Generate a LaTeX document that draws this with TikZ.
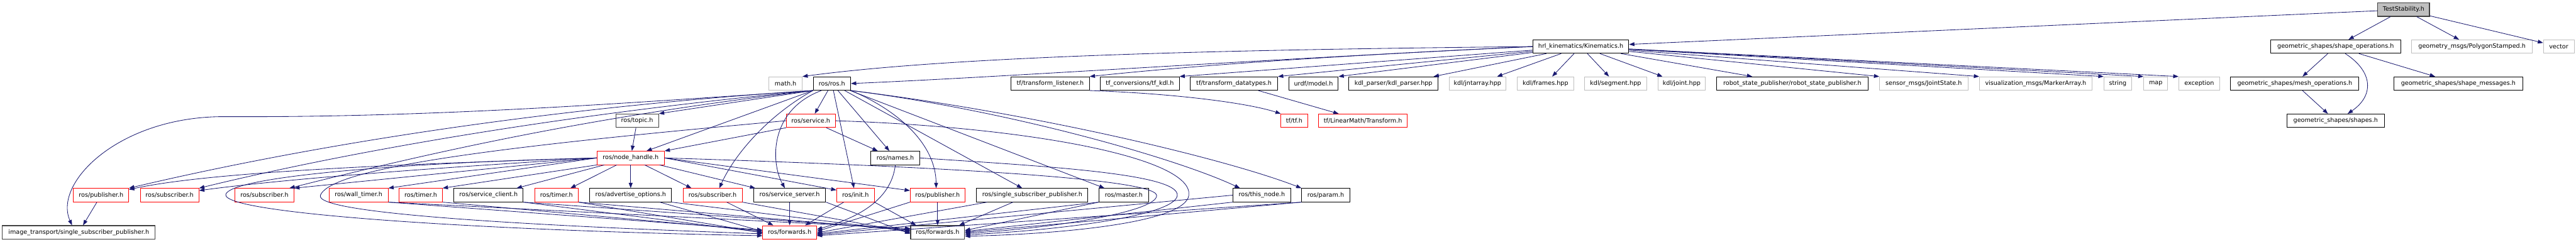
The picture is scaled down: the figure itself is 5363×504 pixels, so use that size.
\documentclass[tikz,border=0pt]{standalone}
\usepackage{fontspec}
\setmainfont{DejaVu Sans}
\usepackage{xcolor}
\usetikzlibrary{arrows.meta}
\definecolor{edgeblue}{HTML}{191970}
\definecolor{sysgray}{HTML}{BFBFBF}

\begin{document}
\begin{tikzpicture}[x=1pt, y=1pt,
  hdr/.style={draw=black, line width=1.2pt, fill=white, minimum height=28pt, inner sep=0pt, font=\fontsize{12.6}{15}\selectfont},
  heavy/.style={hdr, draw=black!75, line width=1.6pt},
  trunc/.style={hdr, draw=red},
  sys/.style={hdr, draw=sysgray},
  root/.style={heavy, fill=sysgray},
  arrow/.style={-{Triangle[length=11pt,width=8pt]}, draw=edgeblue, line width=1.1pt}
]
\useasboundingbox (0,0) rectangle (5363,-504);
\node[root, minimum width=108pt] (test) at (5004,-20) {TestStability.h};
\node[hdr, minimum width=200pt] (kin) at (3291,-97) {hrl\_kinematics/Kinematics.h};
\node[hdr, minimum width=271pt] (shapeop) at (4862.5,-97) {geometric\_shapes/shape\_operations.h};
\node[sys, minimum width=251pt] (polygon) at (5146.5,-97) {geometry\_msgs/PolygonStamped.h};
\node[sys, minimum width=64pt] (vector) at (5327,-97) {vector};
\node[sys, minimum width=69pt] (mathh) at (1635.5,-174) {math.h};
\node[hdr, minimum width=78pt] (rosros) at (1732,-174) {ros/ros.h};
\node[hdr, minimum width=163pt] (tflisten) at (2186.5,-174) {tf/transform\_listener.h};
\node[hdr, minimum width=164pt] (tfkdl) at (2373,-174) {tf\_conversions/tf\_kdl.h};
\node[hdr, minimum width=182pt] (tfdata) at (2569,-174) {tf/transform\_datatypes.h};
\node[hdr, minimum width=103pt] (urdf) at (2734.5,-174) {urdf/model.h};
\node[hdr, minimum width=186pt] (kdlparser) at (2901,-174) {kdl\_parser/kdl\_parser.hpp};
\node[sys, minimum width=118pt] (jntarray) at (3076,-174) {kdl/jntarray.hpp};
\node[sys, minimum width=117pt] (frames) at (3217.5,-174) {kdl/frames.hpp};
\node[sys, minimum width=129pt] (segment) at (3363.5,-174) {kdl/segment.hpp};
\node[sys, minimum width=98pt] (joint) at (3501,-174) {kdl/joint.hpp};
\node[hdr, minimum width=315pt] (rsp) at (3731.5,-174) {robot\_state\_publisher/robot\_state\_publisher.h};
\node[sys, minimum width=184pt] (jointstate) at (4005,-174) {sensor\_msgs/JointState.h};
\node[sys, minimum width=234pt] (marker) at (4238,-174) {visualization\_msgs/MarkerArray.h};
\node[sys, minimum width=58pt] (string) at (4409,-174) {string};
\node[sys, minimum width=50pt] (map) at (4488,-174) {map};
\node[sys, minimum width=85pt] (exception) at (4578.5,-174) {exception};
\node[hdr, minimum width=267pt] (meshop) at (4777.5,-174) {geometric\_shapes/mesh\_operations.h};
\node[hdr, minimum width=268pt] (shapemsg) at (5118,-174) {geometric\_shapes/shape\_messages.h};
\node[heavy, minimum width=89pt] (topic) at (1326.5,-251.5) {ros/topic.h};
\node[trunc, minimum width=102pt] (service) at (1688,-251.5) {ros/service.h};
\node[trunc, minimum width=55pt] (tftf) at (2694.5,-251.5) {tf/tf.h};
\node[trunc, minimum width=185pt] (linmath) at (2837.5,-251.5) {tf/LinearMath/Transform.h};
\node[hdr, minimum width=203pt] (shapes) at (4862.5,-251.5) {geometric\_shapes/shapes.h};
\node[trunc, minimum width=140pt] (nodehandle) at (1313,-329) {ros/node\_handle.h};
\node[hdr, minimum width=102pt] (names) at (1864,-329) {ros/names.h};
\node[trunc, minimum width=115pt] (pubA) at (210.5,-406.5) {ros/publisher.h};
\node[trunc, minimum width=122pt] (subA) at (353,-406.5) {ros/subscriber.h};
\node[trunc, minimum width=123pt] (subB) at (550.5,-406.5) {ros/subscriber.h};
\node[trunc, minimum width=123pt] (walltimer) at (746.5,-406.5) {ros/wall\_timer.h};
\node[trunc, minimum width=90pt] (timerA) at (876,-406.5) {ros/timer.h};
\node[hdr, minimum width=144pt] (srvclient) at (1017,-406.5) {ros/service\_client.h};
\node[trunc, minimum width=91pt] (timerB) at (1158.5,-406.5) {ros/timer.h};
\node[hdr, minimum width=170pt] (advopts) at (1313,-406.5) {ros/advertise\_options.h};
\node[trunc, minimum width=123pt] (subC) at (1483.5,-406.5) {ros/subscriber.h};
\node[hdr, minimum width=150pt] (srvserver) at (1644,-406.5) {ros/service\_server.h};
\node[trunc, minimum width=78pt] (init) at (1781,-406.5) {ros/init.h};
\node[trunc, minimum width=114pt] (pubB) at (1952,-406.5) {ros/publisher.h};
\node[hdr, minimum width=232pt] (ssp) at (2149,-406.5) {ros/single\_subscriber\_publisher.h};
\node[hdr, minimum width=103pt] (master) at (2339.5,-406.5) {ros/master.h};
\node[hdr, minimum width=120pt] (thisnode) at (2627,-406.5) {ros/this\_node.h};
\node[hdr, minimum width=100pt] (param) at (2760,-406.5) {ros/param.h};
\node[heavy, minimum width=318pt] (imgssp) at (164,-484) {image\_transport/single\_subscriber\_publisher.h};
\node[trunc, minimum width=112pt] (fwdA) at (1644,-484) {ros/forwards.h};
\node[heavy, minimum width=112pt] (fwdB) at (1952,-484) {ros/forwards.h};
\draw[arrow] (test) -- (kin);
\draw[arrow] (test) -- (shapeop);
\draw[arrow] (test) -- (polygon);
\draw[arrow] (test) -- (vector);
\draw[arrow] (shapeop) -- (meshop);
\draw[arrow] ([xshift=20pt]shapeop.south) .. controls (4942,-150) and (4942,-200) .. ([xshift=25pt]shapes.north);
\draw[arrow] (shapeop) -- (shapemsg);
\draw[arrow] (meshop) -- (shapes);
\draw[arrow] (kin.west) .. controls (2600,-103) and (2000,-115) .. (mathh.north east);
\draw[arrow] (kin.west) .. controls (2600,-125) and (2100,-160) .. (rosros.east);
\draw[arrow] (kin.west) .. controls (2800,-115) and (2500,-135) .. (tflisten.north east);
\draw[arrow] (kin) -- (tfkdl.north east);
\draw[arrow] (kin) -- (tfdata.north east);
\draw[arrow] (kin) -- (urdf.north east);
\draw[arrow] (kin) -- ([xshift=-10pt]kdlparser.north east);
\draw[arrow] (kin) -- (jntarray);
\draw[arrow] (kin) -- (frames);
\draw[arrow] (kin) -- (segment);
\draw[arrow] (kin) -- (joint);
\draw[arrow] (kin) -- (rsp);
\draw[arrow] (kin) -- (jointstate.north west);
\draw[arrow] (kin) -- (marker.north west);
\draw[arrow] (kin) -- (string.north west);
\draw[arrow] (kin) -- (map.north west);
\draw[arrow] (kin) -- (exception.north west);
\draw[arrow] (tflisten.south east) .. controls (2450,-195) and (2600,-215) .. (tftf.north west);
\draw[arrow] (tfdata) -- (linmath);
\draw[arrow] (rosros.south west) -- (topic.north east);
\draw[arrow] (rosros.south west) -- ([xshift=33pt]nodehandle.north);
\draw[arrow] (rosros) -- (service);
\draw[arrow] (rosros.south west) .. controls (1600,-240) and (1530,-320) .. ([xshift=14pt]subC.north);
\draw[arrow] ([xshift=-22pt]rosros.south) .. controls (1600,-230) and (1605,-340) .. ([xshift=-10pt]srvserver.north);
\draw[arrow] (rosros) -- (init);
\draw[arrow] (rosros) -- (names);
\draw[arrow] (rosros.south east) .. controls (1870,-230) and (1948,-300) .. ([xshift=-3pt]pubB.north);
\draw[arrow] (rosros) -- ([xshift=-21pt]ssp.north);
\draw[arrow] (rosros) -- ([xshift=12pt]master.north west);
\draw[arrow] (rosros.south east) .. controls (2100,-230) and (2450,-330) .. ([xshift=15pt]thisnode.north west);
\draw[arrow] (rosros.south east) .. controls (2150,-235) and (2550,-330) .. (param.north west);
\draw[arrow] (rosros.south west) .. controls (1300,-215) and (900,-245) .. (470,-243) .. controls (250,-241) and (110,-380) .. ([xshift=-14pt]imgssp.north);
\draw[arrow] (rosros.south west) .. controls (1200,-220) and (700,-290) .. (pubA.north east);
\draw[arrow] (rosros.south west) .. controls (1200,-235) and (750,-310) .. (subA.north east);
\draw[arrow] (rosros.south west) .. controls (1200,-245) and (850,-330) .. ([xshift=-10pt]subB.north east);
\draw[arrow] (pubA) -- (imgssp);
\draw[arrow] (topic) -- (nodehandle);
\draw[arrow] (service.south west) -- (nodehandle.north east);
\draw[arrow] (service) -- ([xshift=15pt]names.north west);
\draw[arrow] (nodehandle.west) .. controls (900,-340) and (450,-355) .. ([yshift=-3pt]pubA.north east);
\draw[arrow] (nodehandle.west) .. controls (900,-350) and (600,-372) .. ([yshift=-5pt]subA.north east);
\draw[arrow] (nodehandle.west) -- (subB.north east);
\draw[arrow] (nodehandle.west) -- (walltimer.north east);
\draw[arrow] (nodehandle.south west) -- (timerA.north east);
\draw[arrow] (nodehandle) -- ([xshift=-14pt]srvclient.north east);
\draw[arrow] (nodehandle) -- ([xshift=-17pt]timerB.north east);
\draw[arrow] (nodehandle) -- (advopts);
\draw[arrow] (nodehandle) -- ([xshift=-44pt]subC.north);
\draw[arrow] (nodehandle) -- ([xshift=4pt]srvserver.north west);
\draw[arrow] (nodehandle.east) -- ([yshift=-4pt]init.north west);
\draw[arrow] (nodehandle.east) -- ([yshift=-5pt]pubB.north west);
\draw[arrow] (nodehandle.west) .. controls (800,-340) and (480,-370) .. (470,-405) .. controls (462,-445) and (1000,-480) .. ([yshift=-7pt]fwdA.west);
\draw[arrow] (service.west) .. controls (1100,-300) and (690,-345) .. (667,-407) .. controls (655,-445) and (1100,-470) .. ([yshift=-3pt]fwdA.west);
\draw[arrow] (nodehandle.east) .. controls (1900,-345) and (2405,-370) .. (2408,-407) .. controls (2410,-440) and (2200,-475) .. ([yshift=-2pt]fwdB.east);
\draw[arrow] (names.east) .. controls (2150,-345) and (2455,-360) .. (2451,-407) .. controls (2447,-450) and (2200,-480) .. ([yshift=-5pt]fwdB.east);
\draw[arrow] (service.east) .. controls (2150,-265) and (2485,-330) .. (2475,-407) .. controls (2467,-465) and (2200,-488) .. ([yshift=-8pt]fwdB.east);
\draw[arrow] (names.south) .. controls (1855,-420) and (1780,-455) .. ([yshift=6pt]fwdA.east);
\draw[arrow] (walltimer.south east) -- ([yshift=5pt]fwdA.west);
\draw[arrow] (walltimer.south east) -- ([yshift=8pt]fwdB.west);
\draw[arrow] (timerA.south east) -- ([yshift=3pt]fwdA.west);
\draw[arrow] (srvclient.south east) -- (fwdA.west);
\draw[arrow] (srvclient.south east) -- ([yshift=6pt]fwdB.west);
\draw[arrow] (timerB.south east) -- ([yshift=-1pt]fwdA.west);
\draw[arrow] (timerB.south east) -- ([yshift=4pt]fwdB.west);
\draw[arrow] ([xshift=-25pt]advopts.south east) -- ([yshift=2pt]fwdA.west);
\draw[arrow] (advopts.south east) -- ([yshift=2pt]fwdB.west);
\draw[arrow] (subC) -- ([xshift=-34pt]fwdA.north);
\draw[arrow] (subC.south east) -- (fwdB.west);
\draw[arrow] (srvserver) -- (fwdA);
\draw[arrow] (srvserver.south east) -- ([yshift=-3pt]fwdB.west);
\draw[arrow] (init) -- ([xshift=32pt]fwdA.north);
\draw[arrow] (init.south east) -- ([xshift=12pt]fwdB.north west);
\draw[arrow] (pubB) -- (fwdB);
\draw[arrow] (pubB.south west) -- ([yshift=2pt]fwdA.east);
\draw[arrow] ([xshift=-94pt]ssp.south) -- ([yshift=-1pt]fwdA.east);
\draw[arrow] ([xshift=-40pt]ssp.south) -- ([xshift=45pt]fwdB.north);
\draw[arrow] (master.south west) -- ([yshift=-3pt]fwdA.east);
\draw[arrow] (master.south west) -- ([yshift=4pt]fwdB.east);
\draw[arrow] (thisnode.west) -- ([yshift=-5pt]fwdA.east);
\draw[arrow] (thisnode.south west) -- ([yshift=2pt]fwdB.east);
\draw[arrow] (param.south west) -- ([yshift=-7pt]fwdA.east);
\draw[arrow] (param.south west) -- (fwdB.east);
\end{tikzpicture}
\end{document}
